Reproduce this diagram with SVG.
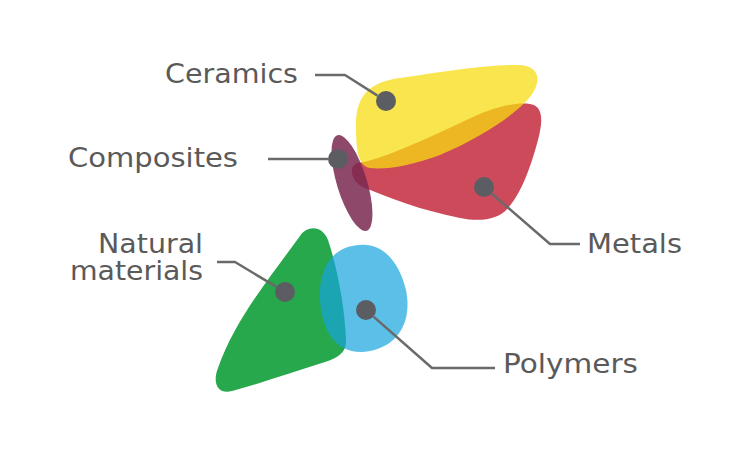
<svg xmlns="http://www.w3.org/2000/svg" width="750" height="459" viewBox="0 0 750 459">
<style>
.lbl{font-family:"DejaVu Sans","Liberation Sans",sans-serif;font-size:26px;fill:#5a5a5a}
.dot{fill:#5b5d62}
.con{fill:none;stroke:#6a6a6a;stroke-width:2.5;stroke-linejoin:round}
</style>
<rect width="750" height="459" fill="#ffffff"/>
<g id="natural">
<path d="M 300,236 C 306,226 322,224 328,240 C 338,270 345,310 346,340 C 347,352 338,358 325,362 C 290,373 255,385 232,391 C 218,395 212,383 218,368 C 235,320 268,280 300,236 Z" fill="#28a84c"/>
<text class="lbl" x="98" y="253" textLength="105" lengthAdjust="spacingAndGlyphs">Natural</text>
<text class="lbl" x="70" y="280" textLength="133" lengthAdjust="spacingAndGlyphs">materials</text>
</g>
<g id="polymers">
<path d="M 360,245 C 385,243 400,265 406,290 C 412,320 400,345 370,351 C 340,357 322,335 320,300 C 318,265 335,246 360,245 Z" fill="#16a4de" fill-opacity="0.7"/>
<text class="lbl" x="503" y="373" textLength="135" lengthAdjust="spacingAndGlyphs">Polymers</text>
</g>
<g id="metals">
<path d="M 358,163 C 380,160 420,142 473,117 C 495,107 515,102 530,104 C 545,106 542,125 538,140 C 530,170 520,195 508,208 C 498,220 480,222 460,218 C 420,210 390,198 365,188 C 350,182 348,165 358,163 Z" fill="#cd4a5a"/>
<text class="lbl" x="587" y="253" textLength="95" lengthAdjust="spacingAndGlyphs">Metals</text>
</g>
<g id="ceramics">
<path d="M 356,125 C 356,95 370,82 400,78 C 440,72 490,64 520,65 C 540,66 542,82 530,97 C 515,115 480,138 440,155 C 410,166 385,170 370,168 C 358,166 356,150 356,125 Z" fill="#f7dc13" fill-opacity="0.75"/>
<text class="lbl" x="165" y="83" textLength="133" lengthAdjust="spacingAndGlyphs">Ceramics</text>
</g>
<g id="composites">
<ellipse cx="352" cy="183" rx="15" ry="50" transform="rotate(-17 352 183)" fill="#7a2850" fill-opacity="0.85"/>
<text class="lbl" x="68" y="167" textLength="170" lengthAdjust="spacingAndGlyphs">Composites</text>
</g>
<g id="connectors">
<polyline class="con" points="315,75 345,75 377.5,95.6"/>
<polyline class="con" points="268,159 328,159"/>
<polyline class="con" points="491.6,193.5 550,244 580,244"/>
<polyline class="con" points="373.5,316.6 432,368 495,368"/>
<polyline class="con" points="217,262 235,262 276.4,286.9"/>
</g>
<g id="dots">
<circle class="dot" cx="386" cy="101" r="10"/>
<circle class="dot" cx="338" cy="159" r="10"/>
<circle class="dot" cx="484" cy="187" r="10"/>
<circle class="dot" cx="366" cy="310" r="10"/>
<circle class="dot" cx="285" cy="292" r="10"/>
</g>
</svg>
